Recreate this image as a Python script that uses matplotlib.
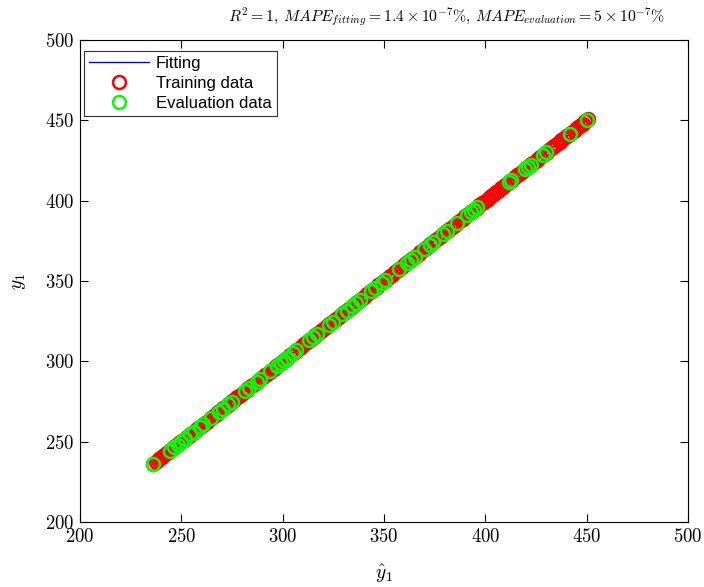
import numpy as np
import matplotlib
matplotlib.use("Agg")
import matplotlib.pyplot as plt
from matplotlib.ticker import FuncFormatter

plt.rcParams["mathtext.fontset"] = "cm"
plt.rcParams["font.family"] = ["cmr10", "DejaVu Serif"]
plt.rcParams["axes.formatter.use_mathtext"] = True

# ---------- DATA --------------------------------------------------------------
# training targets (R^2 = 1, so measured == fitted)
train_y = [
    236.2, 237.5, 238.4, 239.6, 240.3, 241.5, 242.8, 243.6, 244.9, 246.1,
    247.0, 248.3, 249.5, 250.2, 251.6, 252.9, 253.7, 254.8, 256.2, 257.1,
    258.4, 259.3, 260.6, 261.8, 262.5, 263.9, 265.2, 266.0, 267.4, 268.3,
    269.7, 270.8, 271.6, 273.0, 274.2, 275.1, 276.5, 277.7, 278.4, 279.8,
    281.0, 282.3, 283.1, 284.6, 285.5, 286.8, 287.9, 288.7, 290.1, 291.4,
    292.2, 293.6, 294.8, 295.5, 296.9, 298.1, 299.0, 300.4, 301.6, 302.3,
    303.8, 305.0, 305.9, 307.2, 308.5, 309.3, 310.7, 311.8, 312.6, 314.0,
    315.3, 316.1, 317.5, 318.7, 319.4, 320.9, 322.1, 323.0, 324.3, 325.6,
    326.4, 327.8, 329.0, 329.9, 331.2, 332.5, 333.3, 334.7, 335.9, 336.8,
    338.1, 339.4, 340.2, 341.6, 342.9, 343.7, 345.1, 346.3, 347.2, 348.6,
    349.8, 350.5, 351.9, 353.2, 354.0, 355.4, 356.7, 357.5, 358.9, 360.1,
    361.0, 362.4, 363.6, 364.5, 365.8, 367.1, 367.9, 369.3, 370.6, 371.4,
    372.8, 374.0, 374.9, 376.3, 377.5, 378.4, 379.7, 381.0, 381.8, 383.2,
    384.5, 385.3, 386.7, 387.9, 388.8, 390.2, 391.4, 392.3, 393.6, 394.9,
    395.7, 397.1, 398.4, 399.2, 400.6, 401.8, 402.7, 404.1, 405.3, 406.2,
    407.6, 408.8, 409.7, 411.0, 412.3, 413.1, 414.5, 415.8, 416.6, 418.0,
    419.2, 420.1, 421.5, 422.7, 423.6, 425.0, 426.2, 427.1, 428.5, 429.7,
    430.6, 432.0, 433.2, 434.1, 435.4, 436.7, 437.5, 438.9, 440.2, 441.0,
    442.4, 443.6, 444.5, 445.9, 447.1, 448.0, 449.4, 450.6,
]
train_yhat = list(train_y)

eval_y = [
    236.0, 244.4, 246.5, 248.2, 250.0, 251.8, 254.5, 256.3, 259.0, 260.9,
    264.5, 268.6, 270.5, 273.2, 275.0, 281.4, 283.5, 287.3, 289.0, 293.7,
    297.2, 299.0, 300.5, 302.0, 305.1, 306.8, 313.2, 315.0, 317.0, 322.8,
    324.6, 329.3, 331.5, 334.3, 336.2, 338.0, 343.6, 345.5, 349.0, 350.4,
    357.4, 361.2, 363.3, 365.2, 369.8, 372.7, 374.4, 379.0, 381.0, 386.0,
    391.2, 393.0, 394.4, 396.0, 411.5, 412.6, 419.5, 421.0, 422.5, 428.4,
    430.0, 441.8, 450.2,
]
eval_yhat = list(eval_y)

fit_range = [236.0, 450.6]

TITLE = (r"$R^2 = 1$, $MAPE_{fitting} = 1.4\times10^{-7}\%$, "
         r"$MAPE_{evaluation} = 5\times10^{-7}\%$")
TICKS = [200, 250, 300, 350, 400, 450, 500]

# ---------- FIGURE ------------------------------------------------------------
W, H = 704, 587
fig = plt.figure(figsize=(W / 100, H / 100), dpi=100)
ax = fig.add_axes([80 / W, 1 - 522 / H, 608 / W, 482 / H])

ax.plot(fit_range, fit_range, color="#0000ff", lw=1.0, label="Fitting", zorder=2)
ax.plot(train_yhat, train_y, ls="none", marker="o", ms=9.3, mfc="none",
        mec="#ff0000", mew=1.8, label="Training data", zorder=3)
ax.plot(eval_yhat, eval_y, ls="none", marker="o", ms=9.3, mfc="none",
        mec="#00ff00", mew=1.8, label="Evaluation data", zorder=4)

ax.set_xlim(200, 500)
ax.set_ylim(200, 500)
ax.set_xticks(TICKS)
ax.set_yticks(TICKS)
fmt = FuncFormatter(lambda v, p: f"${v:g}$")
ax.xaxis.set_major_formatter(fmt)
ax.yaxis.set_major_formatter(fmt)
ax.tick_params(direction="in", length=6, width=0.8, top=True, right=True,
               labelsize=13.5, pad=4)
for s in ax.spines.values():
    s.set_linewidth(0.8)

# labels / title placed in figure pixels to follow the MATLAB layout
fig.text(384 / W, 1 - 574 / H, r"$\hat{y}_1$", fontsize=14,
         ha="center", va="center")
ax.set_ylabel(r"$y_1$", fontsize=14, labelpad=12)
fig.text(446 / W, 1 - 17 / H, TITLE, fontsize=11.3, ha="center", va="center")

leg = ax.legend(loc="upper left", bbox_to_anchor=(0.007, 0.977),
                prop={"family": "Liberation Sans", "size": 12},
                fancybox=False, edgecolor="#333333", framealpha=1,
                handlelength=3.6, handletextpad=0.4, borderpad=0.3,
                labelspacing=0.3, borderaxespad=0)
leg.get_frame().set_linewidth(0.8)

fig.savefig("out.png", dpi=100)
